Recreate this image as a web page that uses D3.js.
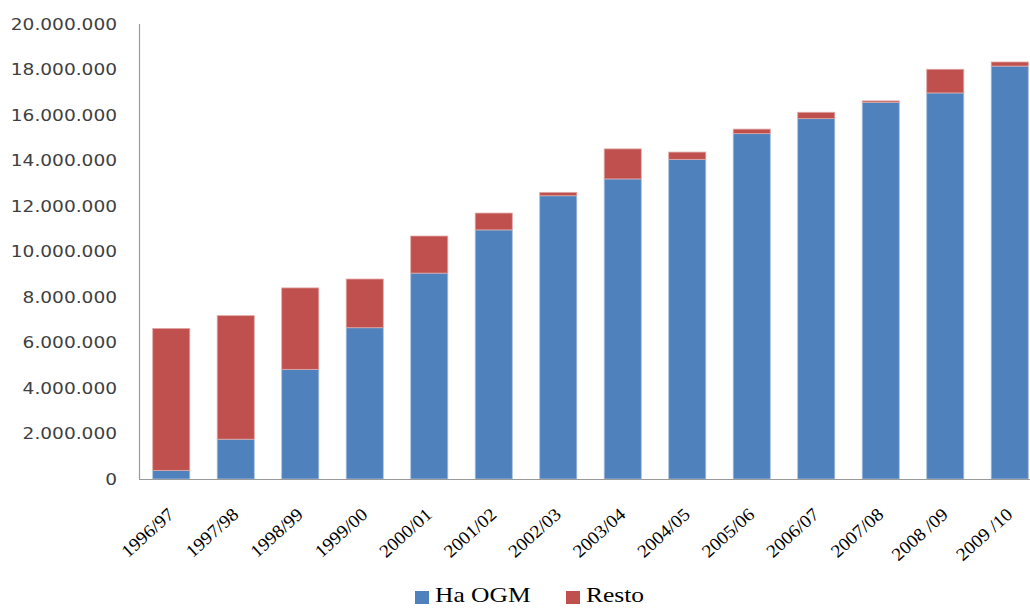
<!DOCTYPE html>
<html>
<head>
<meta charset="utf-8">
<script src="https://cdn.jsdelivr.net/npm/d3@7/dist/d3.min.js"></script>
<style>
html,body{margin:0;padding:0;background:#fff;}
svg{display:block;}
</style>
</head>
<body>
<svg id="chart" width="1030" height="608"></svg>
<script>
const categories = ["1996/97","1997/98","1998/99","1999/00","2000/01","2001/02","2002/03","2003/04","2004/05","2005/06","2006/07","2007/08","2008 /09","2009 /10"];
const haOGM = [380000,1750000,4820000,6650000,9050000,10950000,12450000,13190000,14050000,15180000,15840000,16560000,16970000,18150000];
const resto = [6240000,5430000,3580000,2140000,1630000,740000,150000,1320000,320000,200000,280000,60000,1040000,180000];
const seriesNames = ["Ha OGM","Resto"];
const seriesColors = ["#4F81BD","#C0504D"];
const yTicks = [0,2000000,4000000,6000000,8000000,10000000,12000000,14000000,16000000,18000000,20000000];

(function () {
const svg = d3.select("#chart");
const SX = 1.16;
const mLeft = 139, mRight = 1042, mTop = 24, mBottom = 479;

const x = d3.scaleBand().domain(categories).range([mLeft, mRight]).paddingInner(0.425).paddingOuter(0.2125);
const y = d3.scaleLinear().domain([0, 20000000]).range([mBottom, mTop]);

const fmt = v => d3.format(",")(v).replace(/,/g, ".");

svg.append("g").selectAll("text").data(yTicks).join("text")
  .attr("transform", d => `translate(117,${y(d)}) scale(${SX},1)`)
  .attr("text-anchor", "end")
  .attr("dy", "0.36em")
  .attr("font-family", "DejaVu Sans, Verdana, sans-serif")
  .attr("font-size", 16)
  .attr("fill", "#404040")
  .text(d => fmt(d));

const rows = categories.map((c, i) => ({cat: c, a: haOGM[i], b: resto[i]}));
const stack = d3.stack().keys(["a","b"])(rows);

const g = svg.append("g");
stack.forEach((layer, li) => {
  g.append("g").selectAll("rect").data(layer).join("rect")
    .attr("x", d => x(d.data.cat))
    .attr("width", x.bandwidth())
    .attr("y", d => y(d[1]))
    .attr("height", d => y(d[0]) - y(d[1]))
    .attr("fill", seriesColors[li])
    .attr("stroke", li === 0 ? "#a9c1e0" : "#e0a8a6")
    .attr("stroke-width", 0.8);
});

svg.append("line").attr("x1", mLeft).attr("x2", 1030).attr("y1", mBottom + 0.5).attr("y2", mBottom + 0.5)
  .attr("stroke", "#9a9a9a").attr("stroke-width", 1.2);
svg.append("line").attr("x1", mLeft + 0.5).attr("x2", mLeft + 0.5).attr("y1", mTop).attr("y2", mBottom)
  .attr("stroke", "#9a9a9a").attr("stroke-width", 1.2);

svg.append("g").selectAll("text").data(categories).join("text")
  .attr("transform", d => `translate(${x(d) + x.bandwidth() / 2 + 4},${mBottom + 37}) rotate(-42) scale(1.08,1)`)
  .attr("text-anchor", "end")
  .attr("font-family", "Liberation Serif, Times New Roman, serif")
  .attr("font-size", 18)
  .attr("fill", "#000")
  .text(d => d);

const legendX = [415, 566];
const lg = svg.append("g");
seriesNames.forEach((n, i) => {
  lg.append("rect").attr("x", legendX[i]).attr("y", 591).attr("width", 14).attr("height", 13).attr("fill", seriesColors[i]);
  lg.append("text")
    .attr("transform", `translate(${legendX[i] + 20},602) scale(${SX},1)`)
    .attr("font-family", "Liberation Serif, Times New Roman, serif")
    .attr("font-size", 22)
    .attr("fill", "#000")
    .text(n);
});
})();
</script>
</body>
</html>
